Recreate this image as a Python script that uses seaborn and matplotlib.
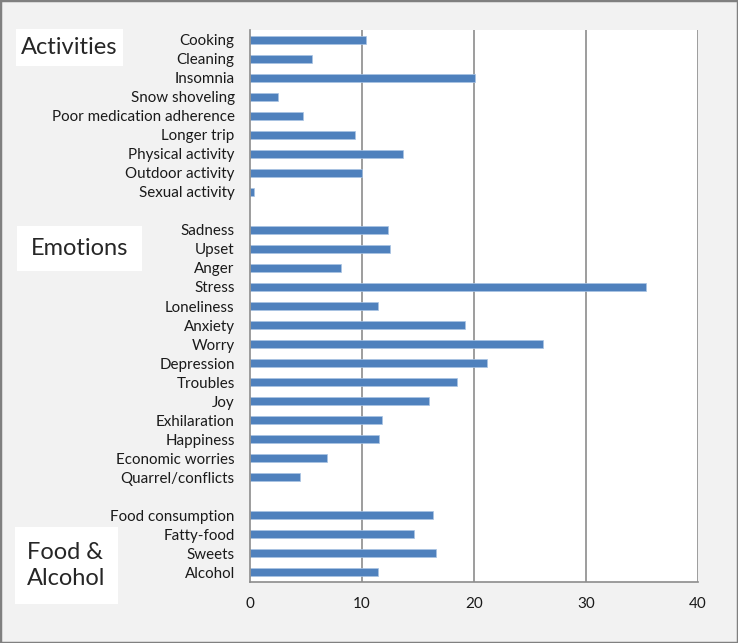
import matplotlib

matplotlib.use("Agg")
import matplotlib.pyplot as plt
import pandas as pd
import seaborn as sns
from matplotlib.patches import Rectangle

sns.set_style("white")
plt.rcParams["font.family"] = ["Lato", "DejaVu Sans"]

activities = [
    "Cooking",
    "Cleaning",
    "Insomnia",
    "Snow shoveling",
    "Poor medication adherence",
    "Longer trip",
    "Physical activity",
    "Outdoor activity",
    "Sexual activity",
]
activity_values = [10.4, 5.5, 20.1, 2.5, 4.7, 9.4, 13.7, 10.0, 0.4]

emotions = [
    "Sadness",
    "Upset",
    "Anger",
    "Stress",
    "Loneliness",
    "Anxiety",
    "Worry",
    "Depression",
    "Troubles",
    "Joy",
    "Exhilaration",
    "Happiness",
    "Economic worries",
    "Quarrel/conflicts",
]
emotion_values = [12.3, 12.5, 8.1, 35.4, 11.4, 19.2, 26.2, 21.2, 18.5, 16.0, 11.8, 11.5, 6.9, 4.5]

food = ["Food consumption", "Fatty-food", "Sweets", "Alcohol"]
food_values = [16.3, 14.6, 16.6, 11.4]

group_names = ["Activities", "Emotions", "Food &\nAlcohol"]
x_ticks = [0, 10, 20, 30, 40]

df = pd.concat(
    [
        pd.DataFrame({"group": group_names[0], "label": activities, "value": activity_values}),
        pd.DataFrame({"group": group_names[1], "label": emotions, "value": emotion_values}),
        pd.DataFrame({"group": group_names[2], "label": food, "value": food_values}),
    ],
    ignore_index=True,
)
# blank slots between the groups
order = activities + [" "] + emotions + ["  "] + food

W, H = 738, 643
fig = plt.figure(figsize=(W / 100, H / 100), dpi=100, facecolor="#f2f2f2")
ax = fig.add_axes([250 / W, 1 - 582 / H, 448 / W, 552 / H])
ax.set_facecolor("white")

sns.barplot(
    data=df,
    x="value",
    y="label",
    order=order,
    color="#4f81bd",
    saturation=1,
    width=0.42,
    errorbar=None,
    edgecolor="#a9c4e4",
    linewidth=0.5,
    ax=ax,
)

grid_col = "#8c8c8c"
ax.set_xlim(0, 40)
ax.set_ylim(len(order) - 0.5, -0.5)
ax.set_xticks(x_ticks)
ax.set_xlabel("")
ax.set_ylabel("")
ax.grid(False)
for x in x_ticks[1:]:
    ax.axvline(x, color=grid_col, lw=1.2, zorder=0)

for side in ["top", "right"]:
    ax.spines[side].set_visible(False)
for side in ["left", "bottom"]:
    ax.spines[side].set_color(grid_col)
    ax.spines[side].set_linewidth(1.2)

ax.tick_params(axis="x", length=4, color=grid_col, width=1, pad=7, labelsize=11, labelcolor="#1a1a1a")
ax.tick_params(axis="y", which="major", length=0, pad=11, labelsize=10.9, labelcolor="#1a1a1a")
ax.set_yticks([i - 0.5 for i in range(len(order) + 1)], minor=True)
ax.tick_params(axis="y", which="minor", length=4, color=grid_col, width=1)

# group labels in white boxes
boxes = [(16, 29, 107, 37), (17, 226, 125, 45), (15, 527, 103, 77)]
for (bx, by, bw, bh), name in zip(boxes, group_names):
    fig.patches.append(
        Rectangle((bx / W, 1 - (by + bh) / H), bw / W, bh / H, transform=fig.transFigure,
                  facecolor="white", edgecolor="none", zorder=1)
    )
    if "\n" in name:
        fig.text((bx + 12) / W, 1 - (by + bh / 2) / H, name, ha="left", va="center",
                 fontsize=17, linespacing=1.3, zorder=2)
    else:
        fig.text((bx + bw / 2) / W, 1 - (by + bh / 2) / H, name, ha="center", va="center",
                 fontsize=17, zorder=2)

fig.patches.append(
    Rectangle((0, 0), 1, 1, transform=fig.transFigure, facecolor="none",
              edgecolor="#808080", lw=2.5, zorder=3)
)

fig.savefig("out.png", dpi=100, facecolor=fig.get_facecolor())
